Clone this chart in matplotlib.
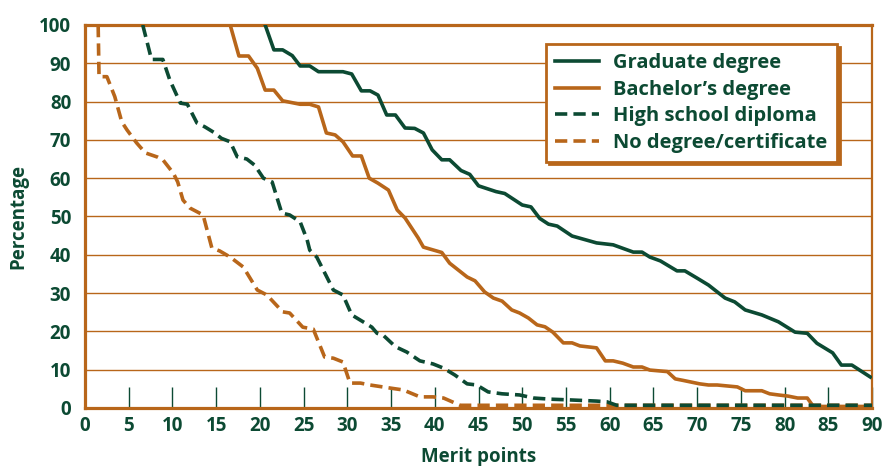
"""Share of applicants above a merit-point threshold, by education level."""
import matplotlib
matplotlib.use("Agg")
import matplotlib.pyplot as plt

GREEN = "#0c4a33"
ORANGE = "#b8661a"

plt.rcParams["font.family"] = ["Open Sans", "DejaVu Sans"]
plt.rcParams["font.weight"] = "bold"

# --- data (merit points, percentage)
grad_x = [20.6, 21.6, 22.6, 23.7, 24.6, 25.7, 26.7, 29.5, 30.5, 31.6, 32.6, 33.5,
          34.5, 35.5, 36.6, 37.7, 38.7, 39.7, 40.8, 41.7, 43.0, 44.0, 45.0, 47.0,
          48.0, 50.0, 51.0, 52.0, 53.0, 54.0, 55.7, 58.5, 60.4, 62.7, 63.7, 64.6,
          65.8, 67.7, 68.6, 70.0, 71.3, 73.2, 74.3, 75.5, 77.4, 79.3, 81.2, 82.6,
          83.7, 85.5, 86.5, 87.7, 89.8]
grad_y = [100, 93.5, 93.5, 92, 89.3, 89.3, 87.8, 87.8, 87.2, 82.8, 82.8, 81.7,
          76.5, 76.5, 73.1, 73.0, 71.8, 67.4, 64.8, 64.8, 62.0, 61.0, 58.0, 56.5,
          56.0, 53.0, 52.5, 49.5, 48.0, 47.5, 44.9, 43.1, 42.6, 40.7, 40.7, 39.4,
          38.4, 35.8, 35.8, 33.9, 32.1, 28.7, 27.7, 25.6, 24.3, 22.5, 19.8, 19.5,
          16.9, 14.4, 11.2, 11.2, 8.1]

bach_x = [16.6, 17.6, 18.7, 19.7, 20.6, 21.6, 22.6, 24.6, 25.7, 26.7, 27.6, 28.6,
          29.5, 30.6, 31.6, 32.5, 33.5, 34.7, 35.7, 36.6, 38.1, 38.7, 40.8, 41.7,
          43.7, 44.6, 45.7, 46.7, 47.7, 48.8, 49.7, 50.7, 51.7, 52.6, 53.5, 54.7,
          55.7, 56.6, 58.5, 59.5, 60.4, 61.5, 62.7, 63.7, 64.6, 66.6, 67.5, 68.4,
          70.3, 71.3, 72.3, 74.6, 75.5, 77.4, 78.3, 79.3, 80.4, 81.5, 82.6, 83.3,
          90.0]
bach_y = [100, 91.9, 91.9, 88.7, 83.0, 83.0, 80.2, 79.3, 79.3, 78.6, 71.8, 71.3,
          69.5, 65.8, 65.8, 60.0, 58.7, 56.9, 51.7, 49.6, 44.4, 42.0, 40.6, 37.8,
          34.2, 33.2, 30.3, 28.7, 27.9, 25.6, 24.8, 23.5, 21.7, 21.2, 19.8, 17.0,
          17.0, 16.2, 15.7, 12.3, 12.3, 11.7, 10.7, 10.7, 9.9, 9.5, 7.6, 7.2,
          6.3, 6.0, 6.0, 5.5, 4.5, 4.5, 3.7, 3.4, 3.1, 2.6, 2.6, 0.4,
          0.4]

hs_x = [6.6, 7.6, 8.9, 9.7, 10.9, 11.7, 12.8, 13.7, 14.7, 15.6, 16.6, 17.4, 18.5,
        19.4, 20.4, 21.4, 22.5, 23.4, 24.6, 25.4, 25.7, 26.5, 28.4, 29.5, 30.5,
        31.8, 32.8, 33.4, 34.1, 35.5, 36.8, 38.3, 39.8, 41.0, 42.3, 43.7, 44.8,
        46.1, 47.7, 49.7, 51.3, 53.2, 55.5, 58.5, 59.7, 60.8, 90.0]
hs_y = [100, 91.0, 91.0, 85.6, 79.6, 79.3, 74.4, 73.4, 72.0, 70.4, 69.5, 65.6, 65.0,
        63.4, 60.0, 59.0, 50.9, 50.4, 48.6, 43.9, 41.2, 39.4, 30.8, 29.5, 24.3,
        22.5, 21.1, 19.5, 19.0, 16.0, 14.6, 12.3, 11.5, 10.4, 8.6, 6.3, 6.0,
        4.2, 3.7, 3.4, 2.6, 2.3, 2.1, 1.8, 1.6, 0.7, 0.7]

nd_x = [1.5, 1.6, 2.5, 3.4, 4.2, 4.8, 5.9, 6.9, 8.3, 8.9, 10.1, 10.6, 11.2, 12.0,
        13.5, 14.5, 15.4, 16.6, 18.1, 19.7, 20.8, 22.6, 23.4, 24.9, 26.1, 27.4,
        28.4, 29.5, 30.3, 31.5, 32.6, 34.9, 36.4, 38.3, 39.8, 41.0, 42.3, 42.9,
        90.0]
nd_y = [100, 86.5, 86.5, 81.3, 74.7, 72.6, 69.2, 66.6, 65.5, 64.8, 61.3, 59.0, 54.3,
        52.2, 50.4, 41.8, 41.0, 39.4, 36.8, 30.8, 29.5, 25.1, 24.8, 21.1, 20.6,
        13.3, 13.0, 12.0, 6.5, 6.5, 6.0, 5.2, 4.7, 2.9, 2.9, 2.6, 1.3, 0.7,
        0.7]

x_ticks = list(range(0, 91, 5))
y_ticks = list(range(0, 101, 10))

fig = plt.figure(figsize=(8.84, 4.66), dpi=100)
ax = fig.add_axes([0.0962, 0.1245, 0.8902, 0.8219])

lw = 2.6
dash = (3.4, 1.7)
ax.plot(grad_x, grad_y, color=GREEN, lw=lw, label="Graduate degree", zorder=5)
ax.plot(bach_x, bach_y, color=ORANGE, lw=lw, label="Bachelor\u2019s degree", zorder=4)
ax.plot(hs_x, hs_y, color=GREEN, lw=lw, dashes=dash,
        label="High school diploma", zorder=6)
ax.plot(nd_x, nd_y, color=ORANGE, lw=lw, dashes=dash,
        label="No degree/certificate", zorder=5)

ax.set_xlim(0, 90)
ax.set_ylim(0, 100)
ax.set_xticks(x_ticks)
ax.set_yticks(y_ticks)
ax.yaxis.grid(True, color=ORANGE, lw=1.0)
ax.set_axisbelow(True)

ax.tick_params(axis="x", direction="in", length=15, width=1.0, color=GREEN,
               pad=6, labelsize=13.5, labelcolor=GREEN)
ax.tick_params(axis="y", length=0, pad=10, labelsize=13.5, labelcolor=GREEN)
for lab in ax.get_xticklabels() + ax.get_yticklabels():
    lab.set_fontweight("bold")

for side in ("left", "bottom", "top"):
    ax.spines[side].set_color(ORANGE)
    ax.spines[side].set_linewidth(2.3)
ax.spines["right"].set_color(ORANGE)
ax.spines["right"].set_linewidth(1.6)

ax.set_xlabel("Merit points", fontsize=13.5, fontweight="bold", color=GREEN,
              labelpad=8)
ax.set_ylabel("Percentage", fontsize=13.5, fontweight="bold", color=GREEN,
              labelpad=8)

leg = ax.legend(loc="upper right", bbox_to_anchor=(0.968, 0.976),
                fontsize=14.5, frameon=True, fancybox=False, framealpha=1,
                edgecolor=ORANGE, handlelength=2.2, handletextpad=0.7,
                labelspacing=0.32, borderpad=0.45,
                shadow={"facecolor": ORANGE, "edgecolor": ORANGE, "alpha": 1})
leg.get_frame().set_linewidth(2.0)
for t in leg.get_texts():
    t.set_color(GREEN)
    t.set_fontweight("bold")

fig.savefig("out.png", dpi=100)
